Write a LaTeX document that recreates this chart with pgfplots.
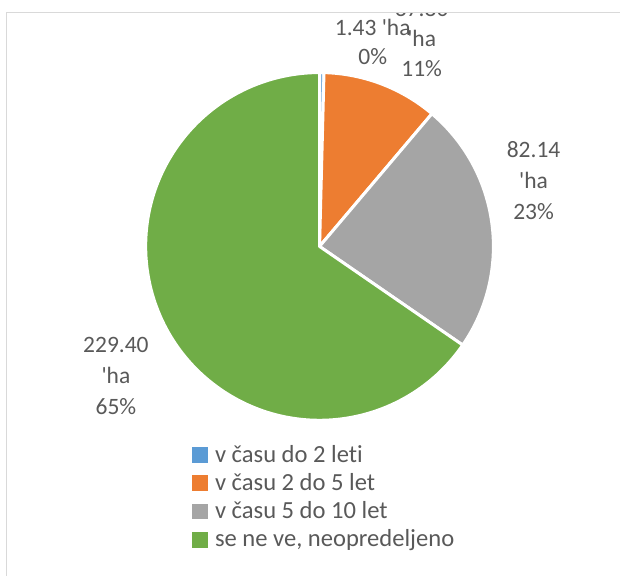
\documentclass[border=0pt]{standalone}
\usepackage{pgfplots}
\usepackage{pgfplotstable}
\pgfplotsset{compat=1.18}
\usepackage{fontspec}
\setmainfont{Carlito}[Ligatures={NoCommon}]
\definecolor{cBlue}{HTML}{5B9BD5}
\definecolor{cOrange}{HTML}{ED7D31}
\definecolor{cGray}{HTML}{A5A5A5}
\definecolor{cGreen}{HTML}{70AD47}
\definecolor{txt}{HTML}{595959}
\definecolor{frm}{HTML}{D9D9D9}
\newcommand{\fs}{\fontsize{23.5}{28.7}\selectfont}
\newcommand{\fl}{\fontsize{24.6}{28.3}\selectfont}
\newcommand{\ap}{\textquotesingle}

\pgfplotstableread{
cat val
0 1.43
1 37.80
2 82.14
3 229.40
}\piedata

\begin{document}
\begin{tikzpicture}
\pgfplotstablegetelem{0}{val}\of\piedata \let\va\pgfplotsretval
\pgfplotstablegetelem{1}{val}\of\piedata \let\vb\pgfplotsretval
\pgfplotstablegetelem{2}{val}\of\piedata \let\vc\pgfplotsretval
\pgfplotstablegetelem{3}{val}\of\piedata \let\vd\pgfplotsretval
\pgfmathsetmacro\tot{\va+\vb+\vc+\vd}
\pgfmathsetmacro\aA{90}
\pgfmathsetmacro\aB{\aA-360*(\va/\tot)}
\pgfmathsetmacro\aC{\aB-360*(\vb/\tot)}
\pgfmathsetmacro\aD{\aC-360*(\vc/\tot)}
\pgfmathsetmacro\aE{-270}
\begin{axis}[
  scale only axis, width=620pt, height=576pt,
  xmin=0, xmax=620, ymin=0, ymax=576, y dir=reverse,
  hide axis, clip=false,
  legend image code/.code={\fill[#1] (0pt,-5.8pt) rectangle (15pt,9pt); \path[draw=none,fill=none] (15pt,0pt) -- (23pt,0pt);},
  legend cell align=left,
  legend style={at={(axis cs:192,445.2)}, anchor=north west, draw=none, fill=none,
    inner sep=0pt, outer sep=0pt, row sep=5.3pt, column sep=0pt,
    font=\fl, text=txt,
    nodes={inner sep=0pt, outer sep=0pt, text height=17.3pt, text depth=5.7pt}},
]
\path (axis cs:0,0) rectangle (axis cs:620,576);
\draw[frm, line width=1pt] (axis cs:620,13) -- (axis cs:7,13) -- (axis cs:7,576);

\filldraw[fill=cBlue, draw=white, line width=3pt, line join=round] (axis cs:319.8,246.6) -- ++(\aA:174pt) arc[start angle=\aA, end angle=\aB, radius=174pt] -- cycle;
\filldraw[fill=cOrange, draw=white, line width=3pt, line join=round] (axis cs:319.8,246.6) -- ++(\aB:174pt) arc[start angle=\aB, end angle=\aC, radius=174pt] -- cycle;
\filldraw[fill=cGray, draw=white, line width=3pt, line join=round] (axis cs:319.8,246.6) -- ++(\aC:174pt) arc[start angle=\aC, end angle=\aD, radius=174pt] -- cycle;
\filldraw[fill=cGreen, draw=white, line width=3pt, line join=round] (axis cs:319.8,246.6) -- ++(\aD:174pt) arc[start angle=\aD, end angle=\aE, radius=174pt] -- cycle;

\addlegendimage{cBlue}\addlegendentry{v času do 2 leti}
\addlegendimage{cOrange}\addlegendentry{v času 2 do 5 let}
\addlegendimage{cGray}\addlegendentry{v času 5 do 10 let}
\addlegendimage{cGreen}\addlegendentry{se ne ve, neopredeljeno}

\begin{scope}[every node/.style={font=\fs, text=txt, anchor=base, inner sep=0pt}]
\node at (axis cs:373,36) {1.43 \ap ha};
\node at (axis cs:373,65) {0\%};
\begin{scope}
\clip (axis cs:0,13.5) rectangle (axis cs:620,576);
\node at (axis cs:422,17) {37.80};
\end{scope}
\node at (axis cs:422,47) {\ap ha};
\node at (axis cs:422,77) {11\%};
\node at (axis cs:534,158) {82.14};
\node at (axis cs:534,189) {\ap ha};
\node at (axis cs:534,220) {23\%};
\node at (axis cs:116,353) {229.40};
\node at (axis cs:116,384) {\ap ha};
\node at (axis cs:116,415) {65\%};
\end{scope}
\end{axis}
\end{tikzpicture}
\end{document}
